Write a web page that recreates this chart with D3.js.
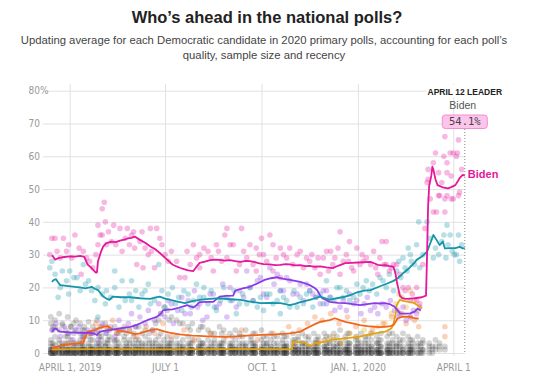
<!DOCTYPE html>
<html>
<head>
<meta charset="utf-8">
<script src="https://cdn.jsdelivr.net/npm/d3@7/dist/d3.min.js"></script>
<style>
  body { margin: 0; background: #fff; }
  svg { display: block; font-family: "Liberation Sans", Arial, sans-serif; }
  .axis text { font-family: "DejaVu Sans Condensed", "Liberation Sans Narrow", Roboto, sans-serif; font-stretch: condensed; fill: #999; font-size: 10px; }
  .axis line { stroke: #e2e2e2; }
  .axis .domain { display: none; }
</style>
</head>
<body>
<div id="container"></div>
<script>
const width = 540;
const height = 380;

// days are counted from March 1, 2019
const titleText = "Who\u2019s ahead in the national polls?";
const subtitleLines = [
  "Updating average for each Democratic candidate in 2020 primary polls, accounting for each poll\u2019s",
  "quality, sample size and recency"
];
const yTicks = [0, 10, 20, 30, 40, 50, 60, 70, 80];
const xTickDays = [31, 122, 214, 306, 397];
const xTickLabels = ["APRIL 1, 2019", "JULY 1", "OCT. 1", "JAN. 1, 2020", "APRIL 1"];
const lastDay = 408;
const leaderDate = "APRIL 12";
const leaderName = "Biden";
const leaderValue = 54.1;

const bidenAvg = [[14,29.8],[15,29.5],[17,28.5],[20,28.9],[24,29.2],[31,29.5],[36,29.4],[41,29.6],[45,29.3],[48,27],[51,26.2],[53,25.5],[56,24.5],[57,24.6],[58,28],[61,31],[63,32.5],[66,33.5],[71,34],[75,33.8],[79,34.3],[83,34.6],[87,35],[90,35.1],[93,35.5],[98,34.5],[103,33.6],[108,32.5],[112,31.8],[117,30.5],[122,29],[125,28.2],[129,27],[133,26.4],[136,26],[140,25.6],[144,25.2],[149,25],[152,26.3],[155,27.5],[160,27.9],[165,28.3],[170,28.5],[174,28.4],[179,28.2],[184,28.3],[189,28],[194,27.8],[199,28.1],[203,28],[207,27.8],[211,27.4],[216,27.1],[222,27],[227,26.8],[232,26.9],[237,27.1],[241,27],[246,26.7],[251,26.8],[256,26.5],[260,26.6],[265,26.3],[270,26.4],[276,26.1],[282,25.9],[287,26.6],[294,27.4],[300,27.5],[306,27.6],[312,27.7],[318,27.8],[322,27.3],[325,26.9],[329,26.7],[332,26.8],[336,26.5],[340,26.3],[342,24],[343,22],[345,19],[346,17.5],[348,16.8],[351,16.5],[356,16.6],[360,16.7],[367,17],[371,17.5],[372,30],[373,45],[374,51],[376,54],[377,56.8],[378,56],[380,53],[382,51.2],[385,50.8],[387,50.5],[392,50.2],[395,50.6],[399,51.2],[401,52.2],[403,53.3],[406,54.3],[408,54.1]];
const sandersAvg = [[14,21.7],[16,22.3],[18,22.5],[20,21.5],[22,20.7],[28,20.5],[36,20.2],[41,20],[46,19.7],[50,20],[52,20.2],[55,19.6],[58,19.2],[61,18],[63,17.2],[66,16.6],[69,16.2],[72,17.2],[80,17],[89,17],[98,16.7],[103,16.6],[108,16.5],[112,16.9],[117,17.2],[122,16.6],[127,16.2],[134,15.7],[141,15.2],[148,15.8],[155,16.2],[164,16.5],[174,16.7],[184,16.4],[194,16.2],[203,15.7],[213,15.2],[222,15.3],[232,15.2],[237,14.9],[241,14.6],[246,15],[251,15.5],[260,16.2],[265,16.7],[270,17.2],[275,16.7],[279,16.2],[286,16.7],[294,17.2],[300,17.8],[306,18.6],[312,19],[318,19.2],[326,20.2],[334,21.2],[340,22],[344,22.8],[349,24.3],[353,25.3],[356,26.3],[360,27.5],[362,28.4],[367,29.4],[372,30.9],[375,33.4],[378,36],[381,34.5],[384,32.9],[387,34],[389,31.9],[394,32],[399,32],[403,32.4],[406,31.9],[408,32]];
const warrenAvg = [[14,6.5],[16,7.2],[18,7.5],[20,6.8],[22,6.5],[30,6.3],[36,6.2],[45,6.1],[50,6.2],[55,5.8],[57,5.5],[60,6.5],[65,6.8],[69,7],[75,7.3],[79,7.5],[85,7.8],[89,8],[95,8.6],[98,9],[102,9.6],[105,10],[110,10.6],[114,11],[118,12],[120,13],[125,13.2],[129,13.3],[135,13.8],[141,14.4],[143,14.6],[146,14.2],[149,13.9],[152,14.6],[155,15.5],[162,15.6],[168,15.6],[174,17.2],[180,17.4],[187,17.5],[189,19],[195,19.6],[203,20.2],[210,21.2],[217,22.3],[223,22.8],[229,23.1],[235,22.6],[241,22.3],[246,22],[251,21.7],[256,21.2],[260,20.7],[264,20],[267,19.2],[270,17.5],[272,16.7],[276,16.1],[279,15.6],[287,15.3],[294,15.2],[301,14.9],[308,14.6],[315,14.9],[322,15.2],[327,15.1],[332,15.2],[337,14.8],[341,14.1],[344,13],[346,12.1],[351,12],[356,12.1],[360,12.6],[363,13.5],[366,13]];
const buttigiegAvg = [[14,1.5],[18,1.9],[22,2.2],[27,2.5],[31,2.7],[38,2.9],[44,3.1],[45,4.2],[46,5],[48,6.5],[52,6.8],[55,7],[59,7.6],[63,8],[67,8.2],[70,7.6],[72,7.3],[78,6.9],[84,6.5],[89,6.1],[93,5.8],[98,6],[103,6.5],[108,7],[114,7.3],[118,6.9],[122,6.5],[126,6.2],[130,6],[136,5.7],[141,5.5],[148,5.3],[155,5.2],[162,5.1],[170,5],[178,4.9],[187,5],[200,5.3],[213,5.5],[227,5.7],[241,6],[246,6.2],[251,6.5],[255,7.2],[260,8],[265,8.8],[270,9.5],[275,9.8],[279,10],[284,10.6],[289,10],[294,9.5],[301,9],[308,8.5],[315,8.2],[322,8],[327,7.9],[332,8],[337,8.2],[340,8.5],[342,9.5],[344,10.6],[348,11],[352,11.1],[356,11],[360,10.6],[364,10.5]];
const bloombergAvg = [[14,1.1],[60,1.2],[120,1.1],[180,1.2],[243,1.1],[244,3.4],[252,3.3],[256,3.2],[258,2.2],[263,2.3],[265,3],[270,3.2],[275,3.5],[280,4],[289,4.3],[298,4.6],[308,5],[315,5.5],[322,6],[332,6.5],[338,7.5],[340,9],[342,12],[343,14.6],[346,16.2],[350,15.8],[356,15.5],[360,15.2],[365,14.1],[367,13.6]];

const bidenPolls = [[12,30],[14,35],[17,35],[19,31],[22,29],[25,35],[28,31],[30,33],[33,29],[36,36],[40,32],[42,24],[44,31],[47,29],[50,28],[53,26],[56,30],[58,39],[58,33],[60,36],[62,44],[62,36],[64,46],[65,40],[66,33],[68,37],[71,34],[73,39],[75,33],[79,38],[81,31],[84,35],[86,38],[88,33],[90,36],[92,37],[93,32],[95,27],[98,34],[100,37],[101,26],[103,32],[106,30],[108,38],[109,31],[112,26],[114,38],[117,35],[119,33],[122,30],[125,28],[128,31],[133,28],[136,23],[141,23],[143,31],[146,27],[149,33],[152,29],[155,30],[155,26],[159,32],[163,31],[166,29],[168,25],[171,33],[173,31],[176,28],[179,36],[181,38],[181,29],[184,33],[187,33],[190,25],[193,27],[195,38],[197,31],[200,29],[203,33],[206,27],[209,32],[209,25],[212,30],[214,35],[216,30],[219,28],[222,36],[225,33],[225,25],[228,29],[232,32],[232,23],[235,30],[238,29],[241,32],[244,27],[248,30],[251,31],[254,26],[257,29],[260,28],[262,30],[265,26],[268,29],[270,24],[273,29],[276,31],[278,25],[280,31],[282,27],[284,29],[287,32],[289,37],[289,24],[292,28],[295,30],[297,28],[298,34],[300,26],[302,25],[305,32],[308,27],[310,30],[311,28],[314,29],[318,27],[321,31],[323,26],[325,24],[327,29],[329,34],[331,27],[333,34],[333,27],[336,25],[338,26],[340,27],[343,27],[346,24],[349,20],[351,19],[354,20],[356,16],[358,18],[362,20],[362,16],[365,15],[368,27],[370,38],[372,52],[373,56],[373,53],[375,47],[378,58],[378,43],[380,61],[381,43],[383,55],[383,48],[384,48],[386,52],[388,60],[389,66],[389,47],[389,43],[391,58],[391,55],[391,48],[394,61],[395,54],[395,47],[397,61],[397,47],[400,60],[401,61],[402,65],[402,48],[403,49],[405,56]];
const sandersPolls = [[12,26],[14,28],[17,24],[20,17],[22,20],[24,25],[28,22],[30,18],[31,25],[35,23],[38,23],[41,19],[44,27],[46,21],[49,22],[52,19],[55,16],[58,20],[58,11],[62,18],[65,15],[66,19],[70,17],[74,25],[74,20],[78,14],[81,22],[84,16],[88,18],[90,22],[90,16],[94,19],[97,14],[100,18],[103,19],[106,21],[108,15],[112,16],[116,27],[119,19],[122,14],[125,18],[129,20],[132,15],[135,17],[138,13],[140,19],[144,18],[147,14],[149,16],[152,21],[155,17],[159,20],[159,17],[163,15],[166,19],[169,14],[171,13],[175,16],[178,20],[181,17],[184,16],[188,19],[190,12],[193,15],[196,18],[200,15],[203,20],[206,16],[210,14],[213,17],[216,13],[219,18],[222,18],[225,15],[229,16],[232,19],[232,12],[235,17],[238,16],[241,14],[245,19],[248,14],[251,17],[254,15],[257,18],[260,19],[263,14],[266,17],[270,18],[273,15],[276,22],[279,17],[283,16],[286,20],[289,20],[292,17],[295,19],[298,16],[302,17],[305,21],[308,18],[311,20],[314,22],[317,19],[320,21],[324,18],[327,23],[330,22],[333,20],[336,24],[340,19],[343,25],[345,28],[347,23],[349,29],[351,26],[353,25],[354,32],[356,30],[357,28],[360,27],[362,33],[364,40],[365,26],[368,30],[372,40],[375,35],[378,29],[380,32],[383,30],[386,34],[388,36],[390,29],[391,39],[392,33],[394,36],[396,31],[398,30],[400,30],[402,36],[403,28],[405,33]];
const warrenPolls = [[14,7],[18,9],[22,5],[26,8],[30,6],[34,4],[36,7],[40,8],[44,5],[48,7],[52,6],[55,7],[58,4],[62,9],[66,6],[70,8],[74,5],[78,10],[82,7],[87,9],[90,12],[94,8],[98,11],[103,9],[106,13],[110,7],[112,10],[116,15],[118,12],[122,11],[125,16],[128,15],[130,9],[134,13],[138,17],[141,12],[144,16],[146,12],[150,19],[153,14],[155,15],[158,10],[162,11],[165,18],[168,18],[171,14],[174,15],[177,21],[181,11],[184,20],[186,16],[190,14],[193,19],[197,17],[200,25],[203,20],[206,16],[210,22],[213,23],[216,18],[219,17],[222,26],[226,21],[229,24],[232,19],[235,19],[238,23],[241,22],[244,18],[248,18],[251,21],[254,16],[257,21],[260,19],[263,18],[266,17],[270,15],[273,19],[276,15],[276,19],[280,17],[284,13],[289,14],[292,16],[295,13],[298,18],[302,15],[305,16],[309,12],[312,15],[315,17],[318,13],[322,14],[325,12],[329,15],[333,14],[337,16],[341,13],[344,11],[346,12],[349,14],[352,10],[356,11],[359,13],[362,12],[365,14]];
const buttigiegPolls = [[16,1],[30,3],[44,4],[50,6],[56,9],[60,8],[66,8],[72,10],[76,6],[80,7],[88,7],[95,5],[104,8],[112,6],[120,9],[128,5],[140,7],[150,4],[165,6],[180,5],[195,7],[210,4],[225,6],[240,8],[250,7],[258,9],[265,11],[272,10],[280,12],[288,9],[296,11],[304,8],[312,10],[320,7],[330,9],[338,11],[344,13],[348,12],[352,9],[356,11],[360,10],[364,8],[389,8],[389,5]];
const bloombergPolls = [[268,3],[275,4],[282,5],[290,3],[298,6],[305,5],[312,7],[318,6],[325,8],[332,9],[338,12],[342,15],[345,18],[348,17],[352,14],[356,19],[360,16],[363,13]];

// every other candidate, one row per poll date
const otherPolls = [
  [13,[11,9,4,3,2,1,1,0,0,0,1,0]],[15,[8,7,3,2,1,1,0,0,0]],[17,[10,8,5,2.5,1,1,0,0,0,1,0]],[21,[12,7,4,3,1.5,1,0,0,1,0]],[24,[9,8.5,3,2,2,1,0,0,0,0]],
  [27,[7,5,3,2,1,0,0,0]],[29,[11,6,5,3,1,1,0.5,0,0,1,0]],[32,[8,8,4,2,1,0,0,0,1,0]],[35,[9,6,3,2,1,0,0,0]],[37,[10,7,3,2,1,1,0,0,0,0]],[41,[9,6,4,3,2,1,0,0,1,0,0]],
  [43,[7,5,3,2,1,1,0,0]],[45,[8,7,5,2,1,1,0,0,0,1,0]],[49,[9.5,5,3,2,1,0.5,0,0,0,0]],[51,[6,4,2,1,1,0,0,0]],[53,[8,6,4,2,1,1,0,0,1,0,0]],[57,[10,7,3,2,1,0,0,0,1,0]],
  [59,[6,5,3,2,1,0,0,0]],[61,[8,5,4,2.5,1,1,0,0,0,1,0]],[65,[9,6,3,2,2,1,0,0,0,0]],[67,[7,4,3,1,1,0,0,0]],[69,[7,5,4,2,1,1,0,0,1,0,0]],[74,[8,4,3.5,2,1,1,0,0,0,0]],
  [76,[6,4,2,1,1,0,0,0]],[78,[7,6,3,2,1,0,0,0,1,0]],[83,[8,5,4,2,1,1,0,0,0,0]],[85,[6,3,2,1,1,0,0,0]],[88,[7,4,3,2,1,1,0,0,1,0,0]],[92,[6,5,3,2,1,0,0,0,0]],
  [94,[8,4,2,1,1,0,0,0]],[97,[8,4,3,2,1,1,0,0,1,0]],[100,[6,3,2,1,1,0,0,0]],[103,[7,5,3,2,1,1,0,0,0,0]],[107,[6,4,3,2,1,0,0,0,1,0]],[110,[7,3,2,1,1,0,0,0]],[113,[9,4,3,2,1,1,0,0,0,0]],
  [116,[10,5,2,1,1,0,0,0]],[118,[12,6,3,2,1,1,0,0,1,0]],[121,[14,4,2,1,1,0,0,0]],[124,[13,5,3,2,1,1,0,0,0,0]],[126,[10,3,2,1,1,0,0,0]],[128,[11,4,3,2,1,0,0,0,1,0]],[133,[10,5,3,2,1,1,0,0,0]],
  [136,[9,3,2,1,1,0,0,0]],[139,[9,4,2,2,1,1,0,0,1,0]],[144,[8,5,3,2,1,0,0,0,0]],[146,[7,3,2,1,1,0,0,0]],[148,[9,4,3,1,1,1,0,0,0,1]],[154,[7,4,2,2,1,1,0,0,0]],
  [156,[8,3,2,1,0,0,0]],[158,[8,3,3,2,1,0,0,0,1,0]],[163,[7,4,2,1,1,1,0,0,0]],[166,[6,3,2,1,1,0,0]],[169,[6,4,3,2,1,0,0,0,1,0]],[174,[8,3,2,2,1,1,0,0,0]],
  [176,[6,3,2,1,0,0,0]],[178,[7,4,3,1,1,0,0,0,0,1]],[184,[6,3,2,2,1,1,0,0,0]],[186,[5,3,2,1,1,0,0]],[189,[7,4,2,1,1,0,0,0,1,0]],[193,[6,5,3,2,1,1,0,0,0]],
  [196,[5,3,2,1,0,0,0]],[199,[7,3,2,2,1,0,0,0,1,0]],[204,[5,4,3,1,1,1,0,0,0]],[206,[6,3,2,1,1,0,0]],[208,[6,3,2,2,1,0,0,0,0,1]],[214,[7,4,2,1,1,1,0,0,0]],
  [216,[5,3,2,1,0,0,0]],[219,[5,3,3,2,1,0,0,0,1,0]],[223,[6,4,2,2,1,1,0,0,0]],[226,[5,3,1,1,0,0,0]],[229,[5,3,2,1,1,0,0,0,0,1]],[234,[6,4,3,2,1,1,0,0,0]],
  [236,[5,2,2,1,0,0,0]],[238,[5,3,2,2,1,0,0,0,1,0]],[244,[6,4,3,2,1,1,0,0,0]],[246,[4,3,2,1,1,0,0]],[249,[5,4,2,1,1,0,0,0,0,1]],[253,[6,3,3,2,1,1,0,0,0]],
  [256,[5,3,2,1,0,0,0]],[259,[5,4,2,2,1,0,0,0,1,0]],[264,[6,3,2,1,1,1,0,0,0]],[266,[4,3,2,1,0,0,0]],[268,[5,4,3,2,1,0,0,0,0,1]],[274,[6,4,2,2,1,1,0,0,0]],
  [276,[5,3,2,1,1,0,0]],[279,[5,3,3,1,1,0,0,0,1,0]],[283,[6,4,2,2,1,1,0,0,0]],[286,[5,3,2,1,0,0,0]],[289,[7,3,3,2,1,0,0,0,0,1]],[294,[5,4,2,1,1,1,0,0,0]],
  [296,[6,3,2,1,1,0,0]],[298,[6,3,3,2,1,0,0,0,1,0]],[304,[5,4,2,2,1,1,0,0,0]],[306,[4,3,2,1,0,0,0]],[309,[6,3,2,1,1,0,0,0,0,1]],[313,[5,4,3,2,1,1,0,0,0]],
  [316,[5,3,2,1,1,0,0]],[319,[6,4,2,2,1,0,0,0,1,0]],[324,[5,3,3,1,1,1,0,0,0]],[326,[4,3,2,1,0,0,0]],[328,[6,4,2,2,1,0,0,0,0]],[334,[5,3,2,1,1,0,0,0,1]],
  [336,[6,3,2,1,0,0,0]],[339,[6,4,3,2,1,1,0,0,0]],[343,[5,3,2,2,1,0,0,0]],[346,[4,3,2,1,0,0]],[349,[6,4,2,1,1,0,0,0]],[354,[5,3,2,1,0,0,0]],
  [356,[4,2,1,1,0,0]],[358,[4,3,2,1,1,0,0]],[363,[5,3,2,1,0,0]],[366,[3,2,1,0,0]],[368,[4,3,1,1,0]],[374,[3,2,1,0]],[377,[2,1,0]],[380,[4,2,1]],[384,[3,2,1]],[389,[2,1]]
];

const candidates = [
  { name: "Bloomberg", color: "#e2a312", avg: bloombergAvg, polls: bloombergPolls },
  { name: "Buttigieg", color: "#f2661a", avg: buttigiegAvg, polls: buttigiegPolls },
  { name: "Warren", color: "#8a3be6", avg: warrenAvg, polls: warrenPolls },
  { name: "Sanders", color: "#1495a8", avg: sandersAvg, polls: sandersPolls },
  { name: "Biden", color: "#e4189a", avg: bidenAvg, polls: bidenPolls }
];

const day0 = Date.UTC(2019, 2, 1);
const toDate = d => new Date(day0 + d * 864e5);

const x = d3.scaleUtc()
    .domain([toDate(0), toDate(lastDay)])
    .range([37.2, 464.8]);
const y = d3.scaleLinear()
    .domain([0, 80])
    .range([353, 90.7]);

const svg = d3.select("div#container")
    .append("svg")
    .attr("width", width)
    .attr("height", height)
    .attr("viewBox", [0, 0, width, height]);

svg.append("text")
    .attr("x", 267).attr("y", 23)
    .attr("text-anchor", "middle")
    .style("font-size", "16.5px").style("font-weight", "bold").attr("fill", "#222")
    .text(titleText);

svg.selectAll("text.sub")
    .data(subtitleLines)
    .join("text")
    .attr("class", "sub")
    .attr("x", 264).attr("y", (d, i) => 43.5 + i * 15)
    .attr("text-anchor", "middle")
    .style("font-size", "11.3px").attr("fill", "#444")
    .text(d => d);

// y grid
const yAxis = svg.append("g")
    .attr("class", "axis")
    .attr("transform", "translate(43,0)")
    .call(d3.axisLeft(y).tickValues(yTicks).tickSize(-(465 - 43)).tickPadding(3));
yAxis.selectAll(".tick").filter(d => d === 0).select("line").attr("stroke", "#aaa");
yAxis.selectAll(".tick").filter(d => d === 80).append("text")
    .attr("x", -3).attr("dy", "0.32em").attr("text-anchor", "start").text("%");

// x grid
svg.append("g")
    .attr("class", "axis")
    .attr("transform", "translate(0,356)")
    .call(d3.axisBottom(x)
        .tickValues(xTickDays.map(toDate))
        .tickFormat((d, i) => xTickLabels[i])
        .tickSize(-(356 - 84))
        .tickPadding(7.5));

// poll dots
const others = otherPolls.flatMap(([d, vals]) => vals.map(v => [d, v]));
svg.append("g")
    .selectAll("circle")
    .data(others)
    .join("circle")
    .attr("cx", d => x(toDate(d[0])))
    .attr("cy", d => y(d[1]))
    .attr("r", 2.9)
    .attr("fill", "#2a2a2a")
    .attr("fill-opacity", 0.2);

candidates.forEach(c => {
  svg.append("g")
      .selectAll("circle")
      .data(c.polls)
      .join("circle")
      .attr("cx", d => x(toDate(d[0])))
      .attr("cy", d => y(d[1]))
      .attr("r", 2.8)
      .attr("fill", c.color)
      .attr("fill-opacity", 0.3);
});

// averages
const line = d3.line()
    .x(d => x(toDate(d[0])))
    .y(d => y(d[1]));

candidates.forEach(c => {
  svg.append("path")
      .attr("d", line(c.avg))
      .attr("fill", "none")
      .attr("stroke", c.color)
      .attr("stroke-width", 1.8)
      .attr("stroke-linejoin", "round");
});

// leader callout
const lx = x(toDate(lastDay));
svg.append("line")
    .attr("x1", lx).attr("x2", lx)
    .attr("y1", 129).attr("y2", y(0))
    .attr("stroke", "#888").attr("stroke-dasharray", "1,2");

svg.append("rect")
    .attr("x", 426).attr("y", 85).attr("width", 78).attr("height", 12)
    .attr("fill", "#fff");
svg.append("text")
    .attr("x", lx).attr("y", 94.5)
    .attr("text-anchor", "middle")
    .style("font-size", "8.5px").style("font-weight", "bold").attr("fill", "#222")
    .text(`${leaderDate} LEADER`);
svg.append("text")
    .attr("x", lx - 2).attr("y", 108.5)
    .attr("text-anchor", "middle")
    .style("font-size", "10.5px").attr("fill", "#555")
    .text(leaderName);
svg.append("rect")
    .attr("x", lx - 22.5).attr("y", 115).attr("width", 45).attr("height", 13.5)
    .attr("rx", 3)
    .attr("fill", "#fcc5ec").attr("stroke", "#f08fd2");
svg.append("text")
    .attr("x", lx).attr("y", 125.3)
    .attr("text-anchor", "middle")
    .style("font-family", "'DejaVu Sans Mono', monospace").style("font-size", "10.5px").attr("fill", "#444")
    .text(`${leaderValue}%`);

const bidenEnd = bidenAvg[bidenAvg.length - 1];
svg.append("text")
    .attr("x", x(toDate(bidenEnd[0])) + 3)
    .attr("y", y(bidenEnd[1]) + 2)
    .style("font-size", "11px").style("font-weight", "bold").attr("fill", "#e4189a")
    .text("Biden");
</script>
</body>
</html>
